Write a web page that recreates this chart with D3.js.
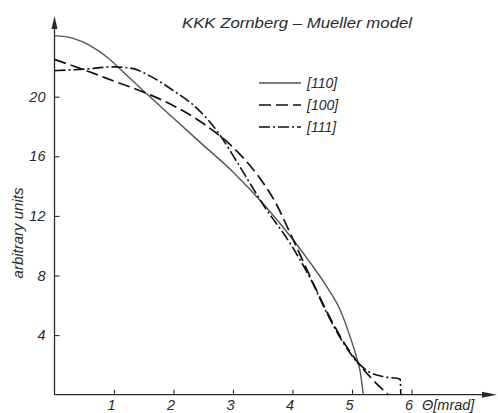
<!DOCTYPE html>
<html><head><meta charset="utf-8">
<script src="https://cdn.jsdelivr.net/npm/d3@7"></script>
<style>
html,body{margin:0;padding:0;background:#fff;}
text{font-family:"Liberation Sans",Arial,sans-serif;font-style:italic;fill:#2a2a2a;}
</style></head>
<body>
<svg id="chart" width="498" height="413"></svg>
<script>
// ---- data ----
const title = "KKK  Zornberg \u2013 Mueller model";
const yLabel = "arbitrary units";
const xUnit = "\u0398[mrad]";
const xTicks = [1, 2, 3, 4, 5, 6];
const yTicks = [4, 8, 12, 16, 20];
const seriesNames = ["[110]", "[100]", "[111]"];

const x110 = [0, 0.3, 0.6, 0.9, 1.07, 1.52, 2.0, 2.5, 3.0, 3.5, 4.0, 4.3, 4.6, 4.8, 4.95, 5.07, 5.14, 5.19];
const y110 = [24.1, 23.93, 23.43, 22.6, 21.98, 20.3, 18.55, 16.75, 14.95, 12.85, 10.45, 8.85, 7.1, 5.7, 4.1, 2.6, 1.5, 0];

const x100 = [0, 0.5, 1.0, 1.5, 2.0, 2.5, 3.0, 3.4, 3.7, 4.0, 4.3, 4.6, 4.85, 5.11, 5.35, 5.61];
const y100 = [22.5, 21.8, 21.05, 20.3, 19.4, 18.2, 16.6, 14.8, 13.0, 10.5, 7.9, 5.4, 3.6, 2.1, 1.0, 0];

const x111 = [0, 0.5, 1.0, 1.3, 1.6, 2.0, 2.4, 2.75, 3.1, 3.5, 4.0, 4.3, 4.6, 4.85, 5.11, 5.3, 5.55, 5.81, 5.82];
const y111 = [21.75, 21.85, 22.0, 21.9, 21.4, 20.4, 19.2, 17.6, 15.4, 12.8, 9.9, 7.8, 5.3, 3.5, 2.1, 1.5, 1.2, 1.05, 0];

// ---- drawing ----
const svg = d3.select("#chart");
const x = d3.scaleLinear().domain([0, 6]).range([54.5, 411.5]);
const y = d3.scaleLinear().domain([0, 20]).range([394.7, 96.7]);

const ink = "#2a2a2a";

// axes
const gx = svg.append("g").attr("transform", `translate(0,${y(0)})`)
  .call(d3.axisBottom(x).tickValues(xTicks).tickSize(-5).tickPadding(5).tickFormat(d3.format("d")));
const gy = svg.append("g").attr("transform", `translate(${x(0)},0)`)
  .call(d3.axisLeft(y).tickValues(yTicks).tickSize(-5).tickPadding(9).tickFormat(d3.format("d")));
[gx, gy].forEach(g => {
  g.select(".domain").remove();
  g.selectAll(".tick line").attr("stroke", ink).attr("stroke-width", 1.1);
  g.selectAll(".tick text").style("font-family", '"Liberation Sans",Arial,sans-serif')
    .style("font-style", "italic").style("font-size", "14.5px").attr("fill", ink);
});
gx.selectAll(".tick text").attr("dx", "-3");

// axis lines with arrows
svg.append("line").attr("x1", x(0)).attr("x2", x(0)).attr("y1", y(0)).attr("y2", 24)
  .attr("stroke", ink).attr("stroke-width", 1.3);
svg.append("path").attr("d", `M${x(0)},16 L${x(0) - 3},29 L${x(0) + 3},29 Z`).attr("fill", ink);
svg.append("line").attr("x1", x(0)).attr("x2", 490).attr("y1", y(0)).attr("y2", y(0))
  .attr("stroke", ink).attr("stroke-width", 1.3);
svg.append("path").attr("d", `M497,${y(0)} L482,${y(0) - 3} L482,${y(0) + 3} Z`).attr("fill", ink);

// curves
const styles = [
  { xs: x110, ys: y110, dash: null, color: "#555", w: 1.4 },
  { xs: x100, ys: y100, dash: "12,5", color: "#111", w: 1.7 },
  { xs: x111, ys: y111, dash: "11,3,2,3", color: "#111", w: 1.6 }
];
const line = d3.line().x(d => x(d[0])).y(d => y(d[1])).curve(d3.curveMonotoneX);
styles.forEach(s => {
  const pts = s.xs.map((v, i) => [v, s.ys[i]]);
  svg.append("path").datum(pts).attr("d", line).attr("fill", "none")
    .attr("stroke", s.color).attr("stroke-width", s.w)
    .attr("stroke-dasharray", s.dash);
});

// legend
const legY = [83, 105, 127];
styles.forEach((s, i) => {
  svg.append("line").attr("x1", 259).attr("x2", 301).attr("y1", legY[i]).attr("y2", legY[i])
    .attr("stroke", s.color).attr("stroke-width", s.w).attr("stroke-dasharray", s.dash);
  svg.append("text").attr("x", 307).attr("y", legY[i] + 5).style("font-size", "14px").text(seriesNames[i]);
});

// title
svg.append("text").attr("x", 182).attr("y", 27.5).style("font-size", "15px")
  .attr("textLength", 230).attr("lengthAdjust", "spacingAndGlyphs").text(title);

// x unit
svg.append("text").attr("x", 422).attr("y", y(0) + 5 + 14.5 * 0.71).style("font-size", "14.5px").text(xUnit);

// y label
svg.append("text").attr("transform", "translate(23,233) rotate(-90)").attr("text-anchor", "middle")
  .style("font-size", "15px").text(yLabel);
</script>
</body></html>
